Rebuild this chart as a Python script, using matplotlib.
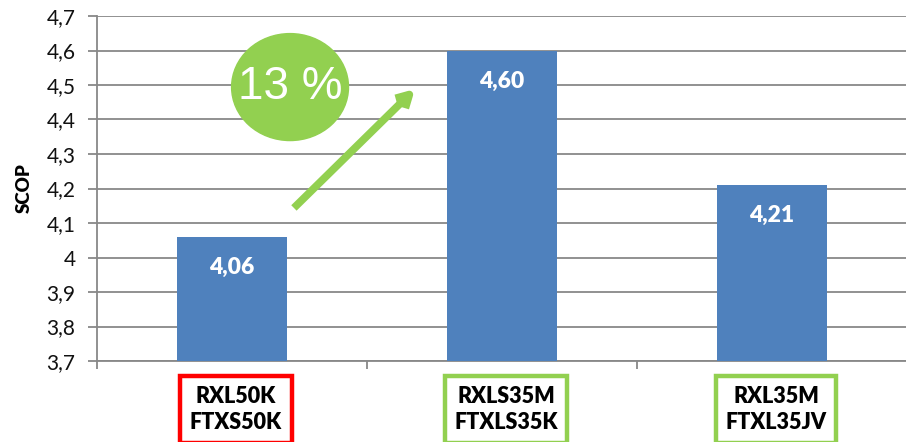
import matplotlib.pyplot as plt
import numpy as np
from matplotlib.patches import Ellipse
from matplotlib.ticker import FuncFormatter

# data
models = ["RXL50K\nFTXS50K", "RXLS35M\nFTXLS35K", "RXL35M\nFTXL35JV"]
scop = [4.06, 4.60, 4.21]
box_colors = ["#FF0000", "#92D050", "#92D050"]
yticks = [3.7, 3.8, 3.9, 4.0, 4.1, 4.2, 4.3, 4.4, 4.5, 4.6, 4.7]

BLUE = "#4F81BD"
GREEN = "#92D050"
GRID = "#888888"

plt.rcParams['font.family'] = ['Lato', 'DejaVu Sans']

fig = plt.figure(figsize=(9.06, 4.42), dpi=100)
ax = fig.add_axes([97/906, 1-361/442, 810/906, 345/442])

x = np.arange(len(scop))
ax.bar(x, np.array(scop) - 3.7, bottom=3.7, width=0.405, color=BLUE, zorder=3)

# value labels inside the bars
for xi, v in zip(x, scop):
    ax.annotate(f"{v:.2f}".replace(".", ","), (xi, v), xytext=(0, -22),
                textcoords="offset points", ha="center", va="center",
                color="white", fontsize=16.5, fontweight="heavy", zorder=4)

ax.set_xlim(-0.5, 2.5)
ax.set_ylim(3.7, 4.7)
ax.set_yticks(yticks)
ax.yaxis.set_major_formatter(FuncFormatter(
    lambda v, p: (f"{v:.1f}".replace(".", ",")).replace(",0", "")))
ax.grid(axis="y", color=GRID, linewidth=1.3, zorder=0)
ax.set_xticks([-0.5, 0.5, 1.5, 2.5])
ax.set_xticklabels([])
ax.tick_params(axis="y", length=6.5, width=1.3, color=GRID, labelsize=15,
               pad=9, labelcolor="#111111")
ax.tick_params(axis="x", length=6, width=1.3, color=GRID)
for s in ["top", "right"]:
    ax.spines[s].set_visible(False)
ax.spines["left"].set_color(GRID)
ax.spines["left"].set_linewidth(1.3)
ax.spines["bottom"].set_color(GRID)
ax.spines["bottom"].set_linewidth(1.3)
ax.set_ylabel("SCOP", fontsize=13.5, fontweight="heavy", labelpad=10)

# category labels in coloured boxes
for xi, name, c in zip(x, models, box_colors):
    ax.text(xi + 0.015, -0.14, name, transform=ax.get_xaxis_transform(),
            ha="center", va="center", fontsize=15.5, fontweight="heavy",
            linespacing=1.3, clip_on=False,
            bbox=dict(boxstyle="square,pad=0.45", facecolor="white",
                      edgecolor=c, linewidth=3.2))

# 13 % badge and arrow
ax.add_patch(Ellipse((0.215, 4.494), 0.433, 0.31, color=GREEN, zorder=5))
ax.text(0.215, 4.494, "13 %", ha="center", va="center", color="white",
        fontsize=33, family="Liberation Sans", zorder=6)
ax.annotate("", xy=(0.685, 4.494), xytext=(0.222, 4.138),
            arrowprops=dict(arrowstyle="->,head_length=0.9,head_width=0.5",
                            color=GREEN, lw=5.5, capstyle="butt"), zorder=5)

fig.savefig("out.png")
